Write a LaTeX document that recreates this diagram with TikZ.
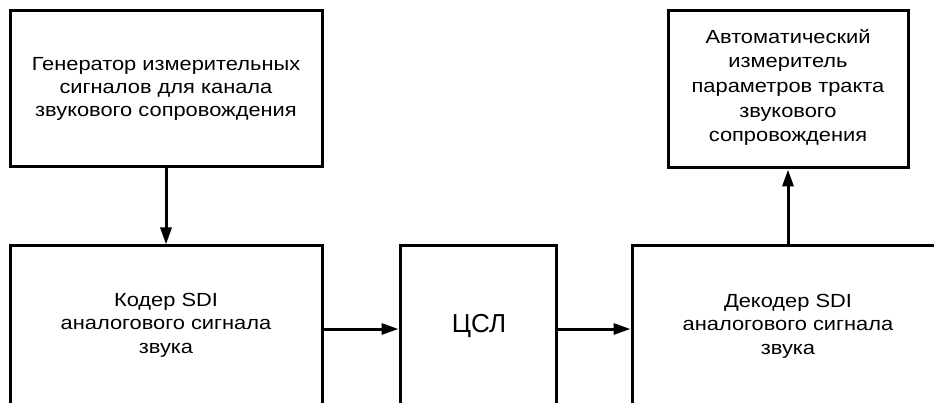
\documentclass[tikz,border=0pt]{standalone}
\usepackage{fontspec}
\setmainfont{Liberation Sans}
\newfontfamily\widefont[FakeStretch=1.15]{Liberation Sans}
\usetikzlibrary{arrows.meta}
\begin{document}
\begin{tikzpicture}[x=1pt,y=-1pt,
  blk/.style={draw=black, line width=3pt, align=center, inner sep=0pt,
    font=\widefont\fontsize{19}{23.4}\selectfont},
  lbl/.style={align=center, inner sep=0pt, font=\widefont\fontsize{19}{23.4}\selectfont},
  conn/.style={line width=3pt, -{Triangle[length=17pt,width=11pt]}}]
\useasboundingbox (0,0) rectangle (934,403);
\node[blk, minimum width=312pt, minimum height=156pt] (gen) at (166,89)
  {Генератор измерительных\\сигналов для канала\\звукового сопровождения};
\node[blk, minimum width=312pt, minimum height=166pt] (cod) at (166,329)
  {};
\node[lbl] (codt) at (166,325) {Кодер SDI\\аналогового сигнала\\звука};
\node[blk, minimum width=156pt, minimum height=166pt, font=\fontsize{26}{30}\selectfont] (csl) at (478,329)
  {};
\node[font=\fontsize{26}{30}\selectfont] (cslt) at (479,326) {ЦСЛ};
\node[blk, minimum width=340pt, minimum height=166pt] (dec) at (802,329)
  {};
\node[blk, minimum width=240pt, minimum height=157pt, font=\widefont\fontsize{19}{24.6}\selectfont] (meas) at (788,89.5)
  {};
\node[lbl, font=\widefont\fontsize{19}{24.6}\selectfont] (meast) at (788,87.5)
  {Автоматический\\измеритель\\параметров тракта\\звукового\\сопровождения};
\node[lbl] (dect) at (788,326)
  {Декодер SDI\\аналогового сигнала\\звука};
\draw[conn] (gen.south) -- (cod.north);
\draw[conn] (cod.east) -- (csl.west);
\draw[conn] (csl.east) -- (dec.west);
\draw[conn] (meas.south |- dec.north) -- (meas.south);
\end{tikzpicture}
\end{document}
